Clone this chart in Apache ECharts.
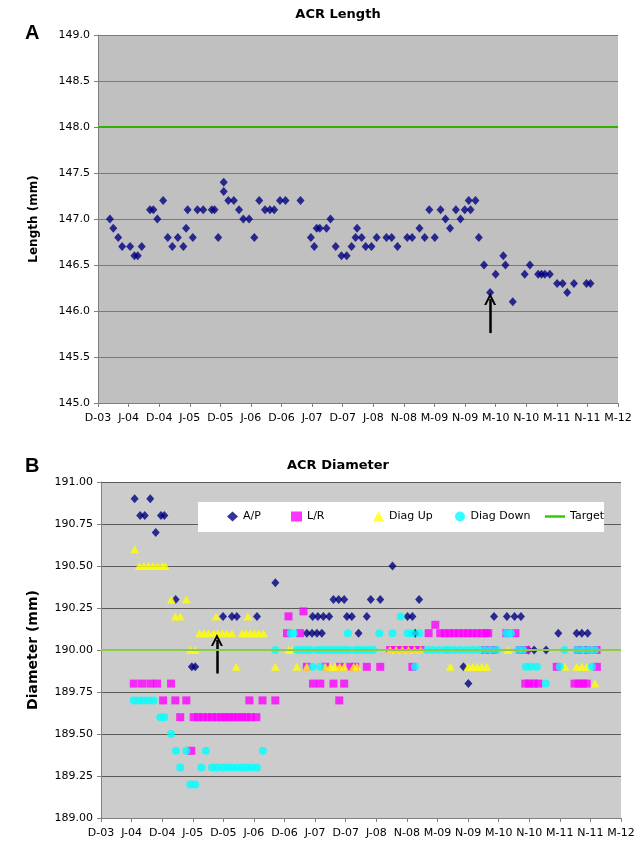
<!DOCTYPE html>
<html>
<head>
<meta charset="utf-8">
<script src="https://cdn.jsdelivr.net/npm/echarts@6/dist/echarts.min.js"></script>
<style>html,body{margin:0;padding:0;background:#fff}#c{width:640px;height:844px}</style>
</head>
<body>
<div id="c"></div>
<script>
var tickLabels = ['D-03','J-04','D-04','J-05','D-05','J-06','D-06','J-07','D-07','J-08','N-08','M-09','N-09','M-10','N-10','M-11','N-11','M-12'];

// ACR Length (x = position on date axis in tick units, y = mm)
var lenX = [0.39,0.50,0.66,0.79,1.05,1.19,1.30,1.43,1.70,1.81,1.94,2.13,2.28,2.43,2.61,2.79,2.88,2.93,3.10,3.25,3.44,3.72,3.81,3.93,4.11,4.11,4.26,4.44,4.61,4.75,4.94,5.11,5.27,5.46,5.62,5.76,5.95,6.13,6.62,6.96,7.07,7.15,7.25,7.47,7.60,7.77,7.96,8.13,8.29,8.42,8.47,8.62,8.75,8.94,9.11,9.43,9.60,9.79,10.11,10.27,10.51,10.68,10.83,11.01,11.20,11.36,11.51,11.70,11.85,11.99,12.12,12.18,12.34,12.45,12.62,12.82,13.00,13.25,13.32,13.56,13.95,14.12,14.39,14.50,14.61,14.77,15.01,15.19,15.34,15.56,15.97,16.10];
var lenY = [147.0,146.9,146.8,146.7,146.7,146.6,146.6,146.7,147.1,147.1,147.0,147.2,146.8,146.7,146.8,146.7,146.9,147.1,146.8,147.1,147.1,147.1,147.1,146.8,147.4,147.3,147.2,147.2,147.1,147.0,147.0,146.8,147.2,147.1,147.1,147.1,147.2,147.2,147.2,146.8,146.7,146.9,146.9,146.9,147.0,146.7,146.6,146.6,146.7,146.8,146.9,146.8,146.7,146.7,146.8,146.8,146.8,146.7,146.8,146.8,146.9,146.8,147.1,146.8,147.1,147.0,146.9,147.1,147.0,147.1,147.2,147.1,147.2,146.8,146.5,146.2,146.4,146.6,146.5,146.1,146.4,146.5,146.4,146.4,146.4,146.4,146.3,146.3,146.2,146.3,146.3,146.3];
var lenTarget = 148.0;
var lenArrow = [[12.82,145.76],[12.82,146.13]];

// ACR Diameter series
var apPts = [[1.10,190.90],[1.61,190.90],[1.28,190.80],[1.43,190.80],[1.96,190.80],[2.07,190.80],[1.79,190.70],[5.70,190.40],[9.53,190.50],
 [2.44,190.30],[7.60,190.30],[7.77,190.30],[7.95,190.30],[8.82,190.30],[9.13,190.30],[10.40,190.30],
 [3.99,190.20],[4.28,190.20],[4.44,190.20],[5.10,190.20],[6.92,190.20],[7.09,190.20],[7.27,190.20],[7.46,190.20],[8.04,190.20],[8.20,190.20],[8.69,190.20],[10.02,190.20],[10.18,190.20],[12.85,190.20],[13.27,190.20],[13.52,190.20],[13.73,190.20],
 [6.73,190.10],[6.90,190.10],[7.06,190.10],[7.22,190.10],[8.42,190.10],[10.27,190.10],[14.95,190.10],[15.55,190.10],[15.72,190.10],[15.91,190.10],
 [13.97,190.00],[14.16,190.00],[14.55,190.00],
 [2.97,189.90],[3.08,189.90],[11.85,189.90],[12.01,189.80]];
var lrPts = [[1.07,189.80],[1.34,189.80],[1.61,189.80],[1.83,189.80],[2.29,189.80],[6.93,189.80],[7.17,189.80],[7.60,189.80],[7.95,189.80],[13.87,189.80],[14.00,189.80],[14.15,189.80],[14.30,189.80],[15.48,189.80],[15.62,189.80],[15.75,189.80],[15.88,189.80],
 [2.03,189.70],[2.43,189.70],[2.79,189.70],[4.85,189.70],[5.28,189.70],[5.70,189.70],[7.79,189.70],
 [2.59,189.60],[3.03,189.60],[3.18,189.60],[3.33,189.60],[3.48,189.60],[3.63,189.60],[3.78,189.60],[3.93,189.60],[4.06,189.60],[4.19,189.60],[4.33,189.60],[4.47,189.60],[4.61,189.60],[4.75,189.60],[4.90,189.60],[5.08,189.60],
 [2.95,189.40],
 [6.13,190.20],[6.62,190.23],[10.93,190.15],
 [6.08,190.10],[6.51,190.10],[10.71,190.10],[11.09,190.10],[11.24,190.10],[11.39,190.10],[11.54,190.10],[11.69,190.10],[11.84,190.10],[11.99,190.10],[12.14,190.10],[12.29,190.10],[12.44,190.10],[12.59,190.10],[12.66,190.10],[13.25,190.10],[13.55,190.10],
 [9.45,190.00],[9.65,190.00],[9.85,190.00],[10.05,190.00],[10.25,190.00],[10.45,190.00],[12.56,190.00],[12.85,190.00],[13.70,190.00],[13.90,190.00],[15.60,190.00],[15.90,190.00],[16.20,190.00],
 [6.73,189.90],[7.33,189.90],[7.82,189.90],[8.15,189.90],[8.31,189.90],[8.69,189.90],[9.13,189.90],[10.18,189.90],[14.90,189.90],[16.21,189.90]];
var upPts = [[1.10,190.60],[1.25,190.50],[1.40,190.50],[1.55,190.50],[1.70,190.50],[1.85,190.50],[2.00,190.50],[2.10,190.50],
 [2.30,190.30],[2.79,190.30],[2.43,190.20],[2.59,190.20],[3.76,190.20],[4.80,190.20],
 [3.22,190.10],[3.37,190.10],[3.51,190.10],[3.68,190.10],[3.82,190.10],[3.97,190.10],[4.12,190.10],[4.28,190.10],[4.61,190.10],[4.74,190.10],[4.88,190.10],[5.02,190.10],[5.15,190.10],[5.31,190.10],
 [2.92,190.00],[3.08,190.00],[6.13,190.00],[6.24,190.00],[9.45,190.00],[9.65,190.00],[9.85,190.00],[10.05,190.00],[10.25,190.00],[10.45,190.00],[13.30,190.00],
 [4.42,189.90],[5.70,189.90],[6.40,189.90],[6.73,189.90],[7.33,189.90],[7.50,189.90],[7.65,189.90],[7.80,189.90],[7.95,189.90],[8.26,189.90],[8.37,189.90],[11.42,189.90],[12.00,189.90],[12.15,189.90],[12.30,189.90],[12.45,189.90],[12.61,189.90],[15.17,189.90],[15.55,189.90],[15.72,189.90],[15.88,189.90],
 [16.15,189.80]];
var downPts = [[1.07,189.70],[1.23,189.70],[1.39,189.70],[1.56,189.70],[1.72,189.70],[1.94,189.60],[2.07,189.60],[2.29,189.50],
 [2.45,189.40],[2.79,189.40],[3.43,189.40],[5.29,189.40],
 [2.59,189.30],[3.28,189.30],[3.63,189.30],[3.79,189.30],[3.97,189.30],[4.12,189.30],[4.28,189.30],[4.44,189.30],[4.61,189.30],[4.77,189.30],[4.93,189.30],[5.10,189.30],
 [2.92,189.20],[3.08,189.20],
 [5.70,190.00],[6.40,190.00],[6.55,190.00],[6.70,190.00],[6.84,190.00],[7.06,190.00],[7.20,190.00],[7.35,190.00],[7.49,190.00],[7.65,190.00],[7.80,190.00],[7.95,190.00],[8.10,190.00],[8.31,190.00],[8.45,190.00],[8.60,190.00],[8.75,190.00],[8.90,190.00],
 [10.67,190.00],[10.85,190.00],[11.05,190.00],[11.26,190.00],[11.36,190.00],[11.55,190.00],[11.75,190.00],[11.95,190.00],[12.15,190.00],[12.35,190.00],[12.55,190.00],[12.75,190.00],[12.94,190.00],[13.64,190.00],[13.80,190.00],[15.15,190.00],[15.55,190.00],[15.75,190.00],[15.95,190.00],[16.15,190.00],
 [6.20,190.10],[6.30,190.10],[8.07,190.10],[9.10,190.10],[9.53,190.10],[10.02,190.10],[10.16,190.10],[10.41,190.10],[13.25,190.10],[13.40,190.10],
 [9.80,190.20],
 [6.92,189.90],[7.17,189.90],[10.27,189.90],[13.89,189.90],[14.05,189.90],[14.25,189.90],[15.00,189.90],[16.05,189.90],
 [14.54,189.80]];
var diaTarget = 190.00;
var diaArrow = [[3.79,189.86],[3.79,190.06]];

var FONT = 'DejaVu Sans';
var lenPts = lenX.map(function(x,i){return [x, lenY[i]];});
var arrowSym = 'path://M0,10 L5,0 L10,10 L8.2,10 L5,3.6 L1.8,10 Z';
var lineIcon = 'path://M0,0 L20,0 L20,2.5 L0,2.5 Z';

function xAxisCfg(gi){
  return {type:'value', gridIndex:gi, min:0, max:tickLabels.length-1, interval:1,
    axisLine:{lineStyle:{color:'#808080',width:1}},
    axisTick:{show:true,length:4,lineStyle:{color:'#808080'}},
    axisLabel:{color:'#000',fontFamily:FONT,fontSize:11,margin:10,formatter:function(v){return tickLabels[Math.round(v)]||'';}},
    splitLine:{show:false}};
}
function legendAt(left, item, w){
  return {left:left, top:511, itemWidth:w||11, itemHeight:w?3:10, z:60, padding:0,
    textStyle:{fontFamily:FONT,fontSize:11,color:'#000'}, data:[item]};
}

var chart = echarts.init(document.getElementById('c'), null, {renderer:'canvas'});
chart.setOption({
  animation:false,
  backgroundColor:'#fff',
  title:[
    {text:'ACR Length',left:333,top:3,textAlign:'center',textStyle:{fontFamily:FONT,fontSize:13,fontWeight:'bold',color:'#000'}},
    {text:'ACR Diameter',left:333,top:454,textAlign:'center',textStyle:{fontFamily:FONT,fontSize:13,fontWeight:'bold',color:'#000'}}
  ],
  graphic:[
    {type:'text',left:25,top:23,style:{text:'A',font:'bold 20px Arial',fill:'#000'}},
    {type:'text',left:25,top:456,style:{text:'B',font:'bold 20px Arial',fill:'#000'}},
    {type:'rect',shape:{x:198,y:502,width:406,height:30},style:{fill:'#fff'},z:50}
  ],
  grid:[
    {left:98,right:22,top:35,height:368,backgroundColor:'#c0c0c0',show:true,borderWidth:0},
    {left:101,right:19,top:482,height:336,backgroundColor:'#cccccc',show:true,borderWidth:0}
  ],
  xAxis:[xAxisCfg(0), xAxisCfg(1)],
  yAxis:[
    {type:'value',gridIndex:0,min:145,max:149,interval:0.5,
     name:'Length (mm)',nameLocation:'middle',nameGap:58,nameTextStyle:{fontFamily:FONT,fontSize:12,fontWeight:'bold',color:'#000'},
     axisLine:{show:true,lineStyle:{color:'#808080'}},axisTick:{show:true,length:4,lineStyle:{color:'#808080'}},
     axisLabel:{color:'#000',fontFamily:FONT,fontSize:11,margin:8,formatter:function(v){return v.toFixed(1);}},
     splitLine:{show:true,lineStyle:{color:'#7a7a7a',width:1}}},
    {type:'value',gridIndex:1,min:189,max:191,interval:0.25,
     name:'Diameter (mm)',nameLocation:'middle',nameGap:61,nameTextStyle:{fontFamily:FONT,fontSize:14,fontWeight:'bold',color:'#000'},
     axisLine:{show:true,lineStyle:{color:'#808080'}},axisTick:{show:true,length:4,lineStyle:{color:'#808080'}},
     axisLabel:{color:'#000',fontFamily:FONT,fontSize:11,margin:8,formatter:function(v){return v.toFixed(2);}},
     splitLine:{show:true,lineStyle:{color:'#5a5a5a',width:1}}}
  ],
  legend:[
    legendAt(227,'A/P'),
    legendAt(291,'L/R'),
    legendAt(373,'Diag Up'),
    legendAt(455,'Diag Down'),
    legendAt(545,{name:'Target',icon:lineIcon},20)
  ],
  series:[
    {type:'line',name:'LengthTarget',xAxisIndex:0,yAxisIndex:0,showSymbol:false,silent:true,
     data:[[0,lenTarget],[tickLabels.length-1,lenTarget]],lineStyle:{color:'#33b000',width:2},z:3},
    {type:'scatter',name:'Length',xAxisIndex:0,yAxisIndex:0,symbol:'diamond',symbolSize:[8,9],
     itemStyle:{color:'#000080'},data:lenPts,z:4,
     markLine:{silent:true,symbol:['none',arrowSym],symbolSize:[12,12],
       lineStyle:{color:'#000',width:2.5,type:'solid'},label:{show:false},
       data:[[{coord:lenArrow[0]},{coord:lenArrow[1]}]]}},
    {type:'scatter',name:'A/P',xAxisIndex:1,yAxisIndex:1,symbol:'diamond',symbolSize:[8,9],itemStyle:{color:'#000080'},data:apPts,z:4},
    {type:'scatter',name:'L/R',xAxisIndex:1,yAxisIndex:1,symbol:'rect',symbolSize:8,itemStyle:{color:'#ff00ff'},data:lrPts,z:4},
    {type:'scatter',name:'Diag Up',xAxisIndex:1,yAxisIndex:1,symbol:'triangle',symbolSize:[9,8],itemStyle:{color:'#ffff00'},data:upPts,z:4},
    {type:'scatter',name:'Diag Down',xAxisIndex:1,yAxisIndex:1,symbol:'circle',symbolSize:8,itemStyle:{color:'#00ffff'},data:downPts,z:4,
     markLine:{silent:true,symbol:['none',arrowSym],symbolSize:[12,12],
       lineStyle:{color:'#000',width:2.5,type:'solid'},label:{show:false},
       data:[[{coord:diaArrow[0]},{coord:diaArrow[1]}]]}},
    {type:'line',name:'Target',xAxisIndex:1,yAxisIndex:1,showSymbol:false,
     data:[[0,diaTarget],[tickLabels.length-1,diaTarget]],lineStyle:{color:'#8ccc44',width:2},itemStyle:{color:'#33cc00'},z:5}
  ]
});
</script>
</body>
</html>
